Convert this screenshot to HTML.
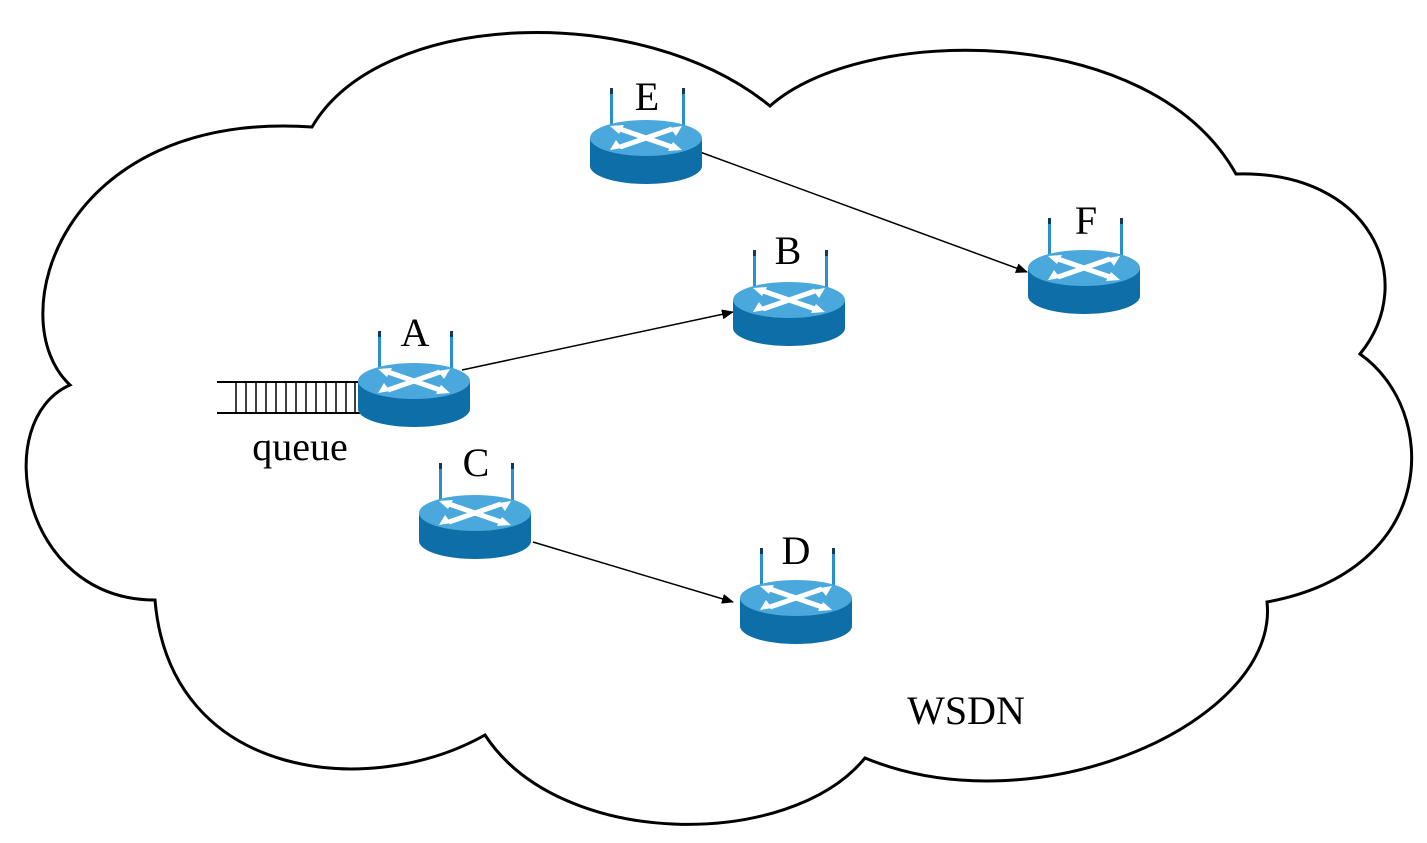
<!DOCTYPE html>
<html><head><meta charset="utf-8"><style>
html,body{margin:0;padding:0;background:#fff;}
svg{display:block;}
text{font-family:"Liberation Serif",serif;fill:#000;}
</style></head><body>
<svg width="1427" height="843" viewBox="0 0 1427 843" xmlns="http://www.w3.org/2000/svg">
<defs>
<marker id="ah" markerWidth="12" markerHeight="10" refX="11" refY="5" orient="auto" markerUnits="userSpaceOnUse">
<path d="M0,0 L12,5 L0,10 z" fill="#000"/>
</marker>
<g id="r">
<rect x="-36" y="-50" width="3" height="46" fill="#2a8fd0"/>
<rect x="36" y="-50" width="3" height="46" fill="#2a8fd0"/>
<rect x="-36" y="-50" width="3" height="6" fill="#103a60"/>
<rect x="36" y="-50" width="3" height="6" fill="#103a60"/>
<rect x="-56" y="0" width="112" height="28" fill="#0d6ea8"/>
<ellipse cx="0" cy="28" rx="56" ry="18" fill="#0d6ea8"/>
<ellipse cx="0" cy="0" rx="56" ry="18" fill="#4aa8dc"/>
<path d="M-26,-9 L26,9 M26,-9 L-26,9" stroke="#fff" stroke-width="5" fill="none"/>
<path d="M-36,-12 l14,-1 l-5,9z M36,12 l-14,1 l5,-9z M-36,12 l6,-10 l6,8z M36,-12 l-6,10 l-6,-8z" fill="#fff"/>
</g>
</defs>
<path d="M70,385 C0,320 60,110 312,127 C380,10 640,0 770,106 C860,25 1150,20 1236,174 C1370,170 1420,280 1360,354 C1440,410 1440,570 1267,602 C1280,720 1040,830 865,758 C790,850 560,850 485,735 C370,800 170,780 155,600 C20,600 -10,420 70,385 Z" fill="#fff" stroke="#000" stroke-width="3"/>
<line x1="217" y1="382" x2="360" y2="382" stroke="#000" stroke-width="2"/>
<line x1="217" y1="413" x2="360" y2="413" stroke="#000" stroke-width="2"/>
<g stroke="#000" stroke-width="1.5">
<line x1="236" y1="382" x2="236" y2="413"/><line x1="246" y1="382" x2="246" y2="413"/>
<line x1="256" y1="382" x2="256" y2="413"/><line x1="266" y1="382" x2="266" y2="413"/>
<line x1="276" y1="382" x2="276" y2="413"/><line x1="286" y1="382" x2="286" y2="413"/>
<line x1="296" y1="382" x2="296" y2="413"/><line x1="306" y1="382" x2="306" y2="413"/>
<line x1="316" y1="382" x2="316" y2="413"/><line x1="326" y1="382" x2="326" y2="413"/>
<line x1="336" y1="382" x2="336" y2="413"/><line x1="346" y1="382" x2="346" y2="413"/>
<line x1="355" y1="382" x2="355" y2="413"/>
</g>
<g stroke="#000" stroke-width="1.5" marker-end="url(#ah)">
<line x1="700" y1="152" x2="1027" y2="272"/>
<line x1="462" y1="370" x2="733" y2="312"/>
<line x1="533" y1="542" x2="733" y2="602"/>
</g>
<use href="#r" x="414" y="381"/>
<use href="#r" x="789" y="300"/>
<use href="#r" x="475" y="513"/>
<use href="#r" x="796" y="598"/>
<use href="#r" x="646" y="138"/>
<use href="#r" x="1084" y="268"/>
<g font-size="40" text-anchor="middle">
<text x="415" y="346">A</text>
<text x="788" y="264">B</text>
<text x="476" y="476">C</text>
<text x="796" y="564">D</text>
<text x="647" y="110">E</text>
<text x="1086" y="234">F</text>
</g>
<text x="300" y="460" font-size="40" text-anchor="middle">queue</text>
<text x="966" y="724" font-size="40" text-anchor="middle">WSDN</text>
</svg>
</body></html>
